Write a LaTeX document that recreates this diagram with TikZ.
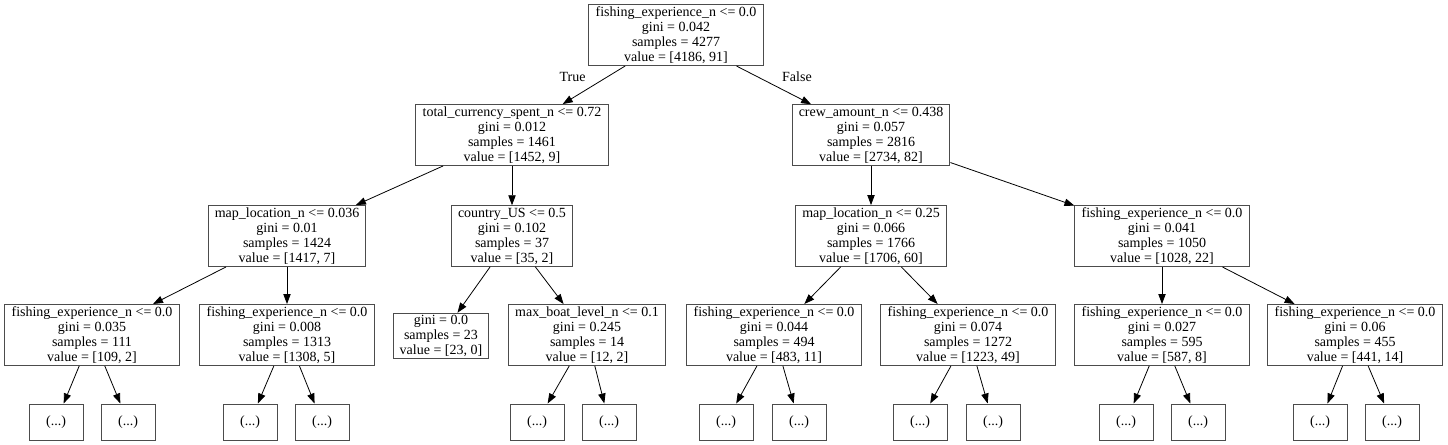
\documentclass[tikz,border=0pt]{standalone}
\usepackage{fontspec}
\setmainfont{Liberation Serif}
\usepackage{tikz}
\usetikzlibrary{arrows.meta}
\tikzstyle{arrow} = [->,>={Triangle[length=7.5pt,width=5.5pt]},line width=0.6pt]
\tikzstyle{split} = [draw=black!70,line width=0.75pt,rectangle,align=center,inner xsep=5pt,inner ysep=1.5pt,font=\fontsize{10.5}{11.25}\selectfont]
\tikzstyle{stub} = [split,minimum width=40.5pt,minimum height=27pt]

\begin{document}
\begin{tikzpicture}[x=0.75pt,y=-0.75pt]
        \useasboundingbox (0,0) rectangle (1448,444);
        % depth 0 and 1
        \node[split] at (676,35) (root) {fishing\_experience\_n <= 0.0\\gini = 0.042\\samples = 4277\\value = [4186, 91]};
        \node[split] at (512,135) (tcs) {total\_currency\_spent\_n <= 0.72\\gini = 0.012\\samples = 1461\\value = [1452, 9]};
        \node[split] at (871,135) (crew) {crew\_amount\_n <= 0.438\\gini = 0.057\\samples = 2816\\value = [2734, 82]};

        % depth 2
        \node[split] at (287,236) (mapl) {map\_location\_n <= 0.036\\gini = 0.01\\samples = 1424\\value = [1417, 7]};
        \node[split] at (512,236) (cus) {country\_US <= 0.5\\gini = 0.102\\samples = 37\\value = [35, 2]};
        \node[split] at (871,236) (mapr) {map\_location\_n <= 0.25\\gini = 0.066\\samples = 1766\\value = [1706, 60]};
        \node[split] at (1162,236) (fexp) {fishing\_experience\_n <= 0.0\\gini = 0.041\\samples = 1050\\value = [1028, 22]};

        % depth 3
        \node[split] at (92,335) (fa) {fishing\_experience\_n <= 0.0\\gini = 0.035\\samples = 111\\value = [109, 2]};
        \node[split] at (287,335) (fb) {fishing\_experience\_n <= 0.0\\gini = 0.008\\samples = 1313\\value = [1308, 5]};
        \node[split] at (441,336) (pure) {gini = 0.0\\samples = 23\\value = [23, 0]};
        \node[split] at (587,335) (mboat) {max\_boat\_level\_n <= 0.1\\gini = 0.245\\samples = 14\\value = [12, 2]};
        \node[split] at (774,335) (fc) {fishing\_experience\_n <= 0.0\\gini = 0.044\\samples = 494\\value = [483, 11]};
        \node[split] at (968,335) (fd) {fishing\_experience\_n <= 0.0\\gini = 0.074\\samples = 1272\\value = [1223, 49]};
        \node[split] at (1162,335) (fe) {fishing\_experience\_n <= 0.0\\gini = 0.027\\samples = 595\\value = [587, 8]};
        \node[split] at (1355,335) (ff) {fishing\_experience\_n <= 0.0\\gini = 0.06\\samples = 455\\value = [441, 14]};

        % truncated subtrees
        \foreach \x/\n in {56/s1,128/s2,250/s3,322/s4,537/s5,609/s6,726/s7,799/s8,920/s9,993/s10,1126/s11,1198/s12,1320/s13,1392/s14}
            \node[stub] at (\x,422) (\n) {(...)};

        \draw[arrow] (root) -- (tcs) node[midway,above left,inner sep=2pt,xshift=-4pt,font=\fontsize{10.5}{11.25}\selectfont]{True};
        \draw[arrow] (root) -- (crew) node[midway,above right,inner sep=2pt,xshift=4pt,font=\fontsize{10.5}{11.25}\selectfont]{False};
        \draw[arrow] (tcs) -- (mapl);
        \draw[arrow] (tcs) -- (cus);
        \draw[arrow] (crew) -- (mapr);
        \draw[arrow] (crew) -- (fexp);
        \draw[arrow] (mapl) -- (fa);
        \draw[arrow] (mapl) -- (fb);
        \draw[arrow] (cus) -- (pure);
        \draw[arrow] (cus) -- (mboat);
        \draw[arrow] (mapr) -- (fc);
        \draw[arrow] (mapr) -- (fd);
        \draw[arrow] (fexp) -- (fe);
        \draw[arrow] (fexp) -- (ff);
        \foreach \p/\a/\b in {fa/s1/s2,fb/s3/s4,mboat/s5/s6,fc/s7/s8,fd/s9/s10,fe/s11/s12,ff/s13/s14} {
            \draw[arrow] (\p) -- (\a);
            \draw[arrow] (\p) -- (\b);
        }

    \end{tikzpicture}
\end{document}
